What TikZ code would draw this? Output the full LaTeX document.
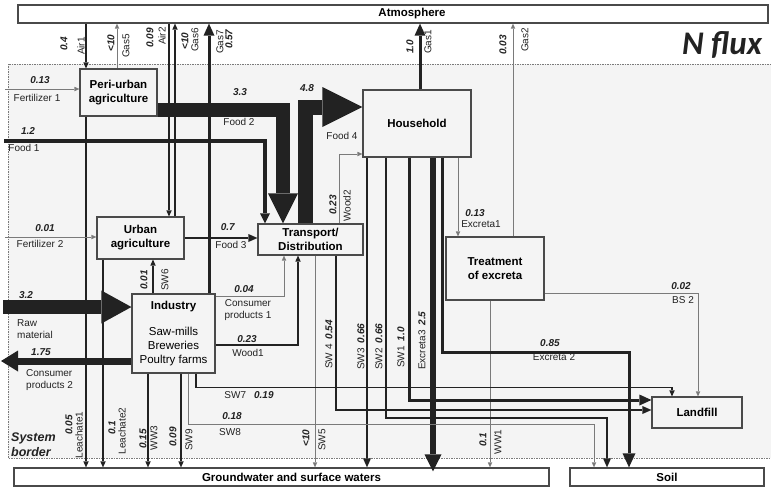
\documentclass[tikz,border=0pt]{standalone}
\usepackage{fontspec}
\setmainfont{Liberation Sans}
\newfontfamily\titlefont{Carlito}
\usetikzlibrary{arrows.meta}
\definecolor{ink}{HTML}{222222}
\definecolor{edge}{HTML}{4A4A4A}
\definecolor{thin}{HTML}{7A7A7A}
\definecolor{pale}{HTML}{F4F4F4}
\newcommand\vl[1]{\textbf{\textit{#1}}}

\begin{document}
\begin{tikzpicture}[x=1pt,y=-1pt,
 box/.style={draw=edge,fill=pale,line width=1.2pt,inner sep=0pt,align=center,
 font=\fontsize{11.5}{14}\selectfont\bfseries},
 sink/.style={draw=edge,fill=white,line width=1.3pt,inner sep=0pt,minimum height=18pt,
 font=\fontsize{11.5}{13}\selectfont\bfseries},
 lab/.style={inner sep=0pt,text=ink,font=\fontsize{10}{12.5}\selectfont},
 rot/.style={lab,rotate=90},
 rotw/.style={rot,anchor=west},
 ahead/.style 2 args={-{Triangle[length=#1,width=#2,line width=0pt]}},
 fl/.style={draw=thin,line width=0.8pt,ahead={5pt}{4.5pt}},
 fm/.style={draw=ink,line width=1.1pt,ahead={6pt}{5.5pt}},
 f2/.style={draw=ink,line width=2pt,ahead={9pt}{8pt}},
 f3/.style={draw=ink,line width=3pt,ahead={12pt}{11pt}}]
\useasboundingbox (0,0) rectangle (771,488);
% system border
\fill[pale] (8,64) rectangle (771,458);
\draw[draw=thin,line width=0.6pt,dash pattern=on 1.5pt off 1pt] (771,64) -- (8,64) -- (8,458) -- (771,458);
\node[font=\titlefont\fontsize{33}{33}\selectfont\bfseries\itshape,text=ink,inner sep=0pt] (title) at (722,45) {N flux};
\node[align=left,anchor=west,inner sep=0pt,text=ink,font=\fontsize{12.5}{15}\selectfont\bfseries\itshape] (sysb) at (11,445) {System\\border};

% sinks
\node[sink,minimum width=750pt] (atm) at (393,14) {\hspace*{38pt}Atmosphere};
\node[sink,minimum width=535pt] (gw) at (281.5,477) {\hspace*{20pt}Groundwater and surface waters};
\node[sink,minimum width=194pt] (soil) at (667,477) {Soil};

% processes
\node[box,minimum width=77pt,minimum height=47pt] (peri) at (118.5,92.5) {Peri-urban\\agriculture};
\node[box,minimum width=108pt,minimum height=67pt] (house) at (417,123.5) {Household};
\node[box,minimum width=87pt,minimum height=42pt] (urban) at (140.5,238) {Urban\\agriculture};
\node[box,minimum width=105pt,minimum height=31pt] (trans) at (310.5,239.5) {Transport/\\Distribution};
\node[box,minimum width=98pt,minimum height=63pt] (treat) at (495,268.5) {Treatment\\of excreta};
\node[box,minimum width=83pt,minimum height=79pt] (ind) at (173.5,333.5)
 {Industry\\[12pt]\mdseries Saw-mills\\\mdseries Breweries\\\mdseries Poultry farms};
\node[box,minimum width=90pt,minimum height=31pt] (land) at (697,412.5) {Landfill};

% free ends on the left
\coordinate (fert1) at (5,89);
\coordinate (food1) at (4,141);
\coordinate (fert2) at (5,237);
\coordinate (raw) at (3,307);
\coordinate (cp2) at (1,361);

% exchanges with the atmosphere
\foreach \a/\d/\s in {peri/-32.5pt/fm,urban/28.5pt/fm}
 {\draw[\s] ([xshift=\d]\a.north |- atm.south) -- ([xshift=\d]\a.north);}
\foreach \a/\d/\s in {peri/-1.5pt/fl,urban/34.5pt/fm,ind/35.5pt/f3,house/3pt/f3,treat/18pt/fl}
 {\draw[\s] ([xshift=\d]\a.north) -- ([xshift=\d]\a.north |- atm.south);}
% straight down to the waters
\foreach \a/\d/\s in {peri/-32.5pt/fm,urban/-37.5pt/fm,ind/-25.5pt/fm,ind/7.5pt/fm,
 trans/4.5pt/fl,house/-50pt/f2,treat/-5pt/fl}
 {\draw[\s] ([xshift=\d]\a.south) -- ([xshift=\d]\a.south |- gw.north);}
\draw[ink,line width=6pt,ahead={17pt}{17pt}] ([xshift=16pt]house.south) -- ([xshift=16pt,yshift=-4pt]house.south |- gw.north);

% inputs from outside
\draw[fl] (fert1) -- (fert1 -| peri.west);
\draw[fl] (fert2) -- (fert2 -| urban.west);
\draw[ink,line width=4pt,ahead={10pt}{10pt}] (food1) -| ([xshift=-45.5pt]trans.north);
\draw[ink,line width=14pt,ahead={30pt}{33pt}] (raw) -- (raw -| ind.west);
\draw[ink,line width=7pt,ahead={17pt}{21pt}] (cp2 -| ind.west) -- (cp2);

% food
\draw[ink,line width=14pt,ahead={30pt}{30pt}] ([yshift=-17.5pt]peri.east) -| ([xshift=-27.5pt]trans.north);
\draw[ink,line width=15pt,ahead={40pt}{40pt}] ([xshift=-5pt]trans.north) |- ([yshift=16.5pt]house.west);
\draw[ink,line width=2.5pt,ahead={9pt}{8pt}] (urban.east) -- (urban.east -| trans.west);

% industry and transport
\draw[fm] ([xshift=-20.5pt]ind.north) -- ([xshift=-20.5pt]ind.north |- urban.south);
\draw[fl] ([yshift=37.5pt]ind.east) -| ([xshift=-26.5pt]trans.south);
\draw[fm] ([yshift=-11.5pt]ind.east) -| ([xshift=-12.5pt]trans.south);
\draw[fl] ([xshift=28.5pt]trans.north) |- ([yshift=-30.5pt]house.west);
\draw[fl] ([xshift=14.5pt]ind.south) -- ++(0,51) -| ([xshift=-73pt]soil.north);
\draw[fm,line width=1.5pt] ([xshift=22.5pt]ind.south) -- ++(0,14) -| ([xshift=-25pt]land.north);
\draw[f2] ([xshift=25.5pt]trans.south) |- ([yshift=2.5pt]land.west);

% household
\draw[f2] ([xshift=-31pt]house.south) -- ++(0,260) -| ([xshift=-60pt]soil.north);
\draw[f3] ([xshift=-8pt]house.south) |- ([yshift=12.5pt]land.west);
\draw[f3,ahead={14pt}{13pt}] ([xshift=25pt]house.south) -- ++(0,195) -| ([xshift=-38pt]soil.north);
\draw[fl] ([xshift=41pt]house.south) -- ([xshift=41pt]house.south |- treat.north);
\draw[fl] ([yshift=-24.5pt]treat.east) -| ([xshift=1pt]land.north);

% flow labels
\foreach \lname/\lpos/\ltext in {fert1v/{40,80}/\vl{0.13}, fert1n/{37,98}/Fertilizer 1,
 food1v/{28,131}/\vl{1.2}, food1n/{24,148}/Food 1,
 food2v/{240,92}/\vl{3.3}, food2n/{239,122}/Food 2,
 food4v/{307,88}/\vl{4.8}, food4n/{342,136}/Food 4,
 food3v/{228,227}/\vl{0.7}, food3n/{231,245}/Food 3,
 fert2v/{45,228}/\vl{0.01}, fert2n/{40,244}/Fertilizer 2,
 rawv/{26,295}/\vl{3.2}, cp2v/{41,352}/\vl{1.75}, cp1v/{244,289}/\vl{0.04},
 wood1v/{247,339}/\vl{0.23}, wood1n/{248,353}/Wood1,
 sw7n/{249,395}/SW7\hspace{8pt}\vl{0.19},
 sw8v/{232,416}/\vl{0.18}, sw8n/{230,432}/SW8,
 exc1v/{475,213}/\vl{0.13}, exc1n/{481,224}/Excreta1,
 bs2v/{681,286}/\vl{0.02}, bs2n/{683,300}/BS 2,
 exc2v/{550,343}/\vl{0.85}, exc2n/{554,357}/Excreta 2}
 {\node[lab] (\lname) at (\lpos) {\ltext};}
\node[lab,align=left,anchor=west] (rawn) at (17,329) {Raw\\material};
\node[lab,align=left,anchor=west] (cp2n) at (26,380) {Consumer\\products 2};
\node[lab,align=center] (cp1n) at (248,310) {Consumer\\products 1};

\foreach \lname/\lpos/\ltext in {air1v/{64,44}/\vl{0.4}, air1n/{81,46}/Air1,
 gas5v/{111,43}/\vl{<10}, gas5n/{126,46}/Gas5,
 air2v/{150,38}/\vl{0.09}, air2n/{162,36}/Air2,
 gas6v/{185,41}/\vl{<10}, gas6n/{195,40}/Gas6,
 gas7n/{220,42}/Gas7, gas7v/{229,39}/\vl{0.57},
 gas1v/{410,47}/\vl{1.0}, gas1n/{428,42}/Gas1,
 gas2v/{503,45}/\vl{0.03}, gas2n/{525,40}/Gas2,
 wood2v/{333,205}/\vl{0.23}, wood2n/{347,206}/Wood2,
 sw6v/{144,280}/\vl{0.01}, sw6n/{165,280}/SW6,
 leach1v/{69,425}/\vl{0.05}, leach1n/{79,435}/Leachate1,
 leach2v/{112,428}/\vl{0.1}, leach2n/{122,431}/Leachate2,
 ww3v/{143,439}/\vl{0.15}, ww3n/{154,438}/WW3,
 sw9v/{173,437}/\vl{0.09}, sw9n/{189,440}/SW9,
 sw5v/{306,438}/\vl{<10}, sw5n/{322,440}/SW5,
 ww1v/{483,440}/\vl{0.1}, ww1n/{498,442}/WW1}
 {\node[rot] (\lname) at (\lpos) {\ltext};}
\foreach \lname/\lpos/\ltext in {sw4l/{329,369}/SW 4\hspace{5pt}\vl{0.54},
 sw3l/{361,370}/SW3\hspace{5pt}\vl{0.66}, sw2l/{379,370}/SW2\hspace{5pt}\vl{0.66},
 sw1l/{401,368}/SW1\hspace{5pt}\vl{1.0}, exc3l/{422,370}/Excreta3\hspace{5pt}\vl{2.5}}
 {\node[rotw] (\lname) at (\lpos) {\ltext};}
\end{tikzpicture}
\end{document}
